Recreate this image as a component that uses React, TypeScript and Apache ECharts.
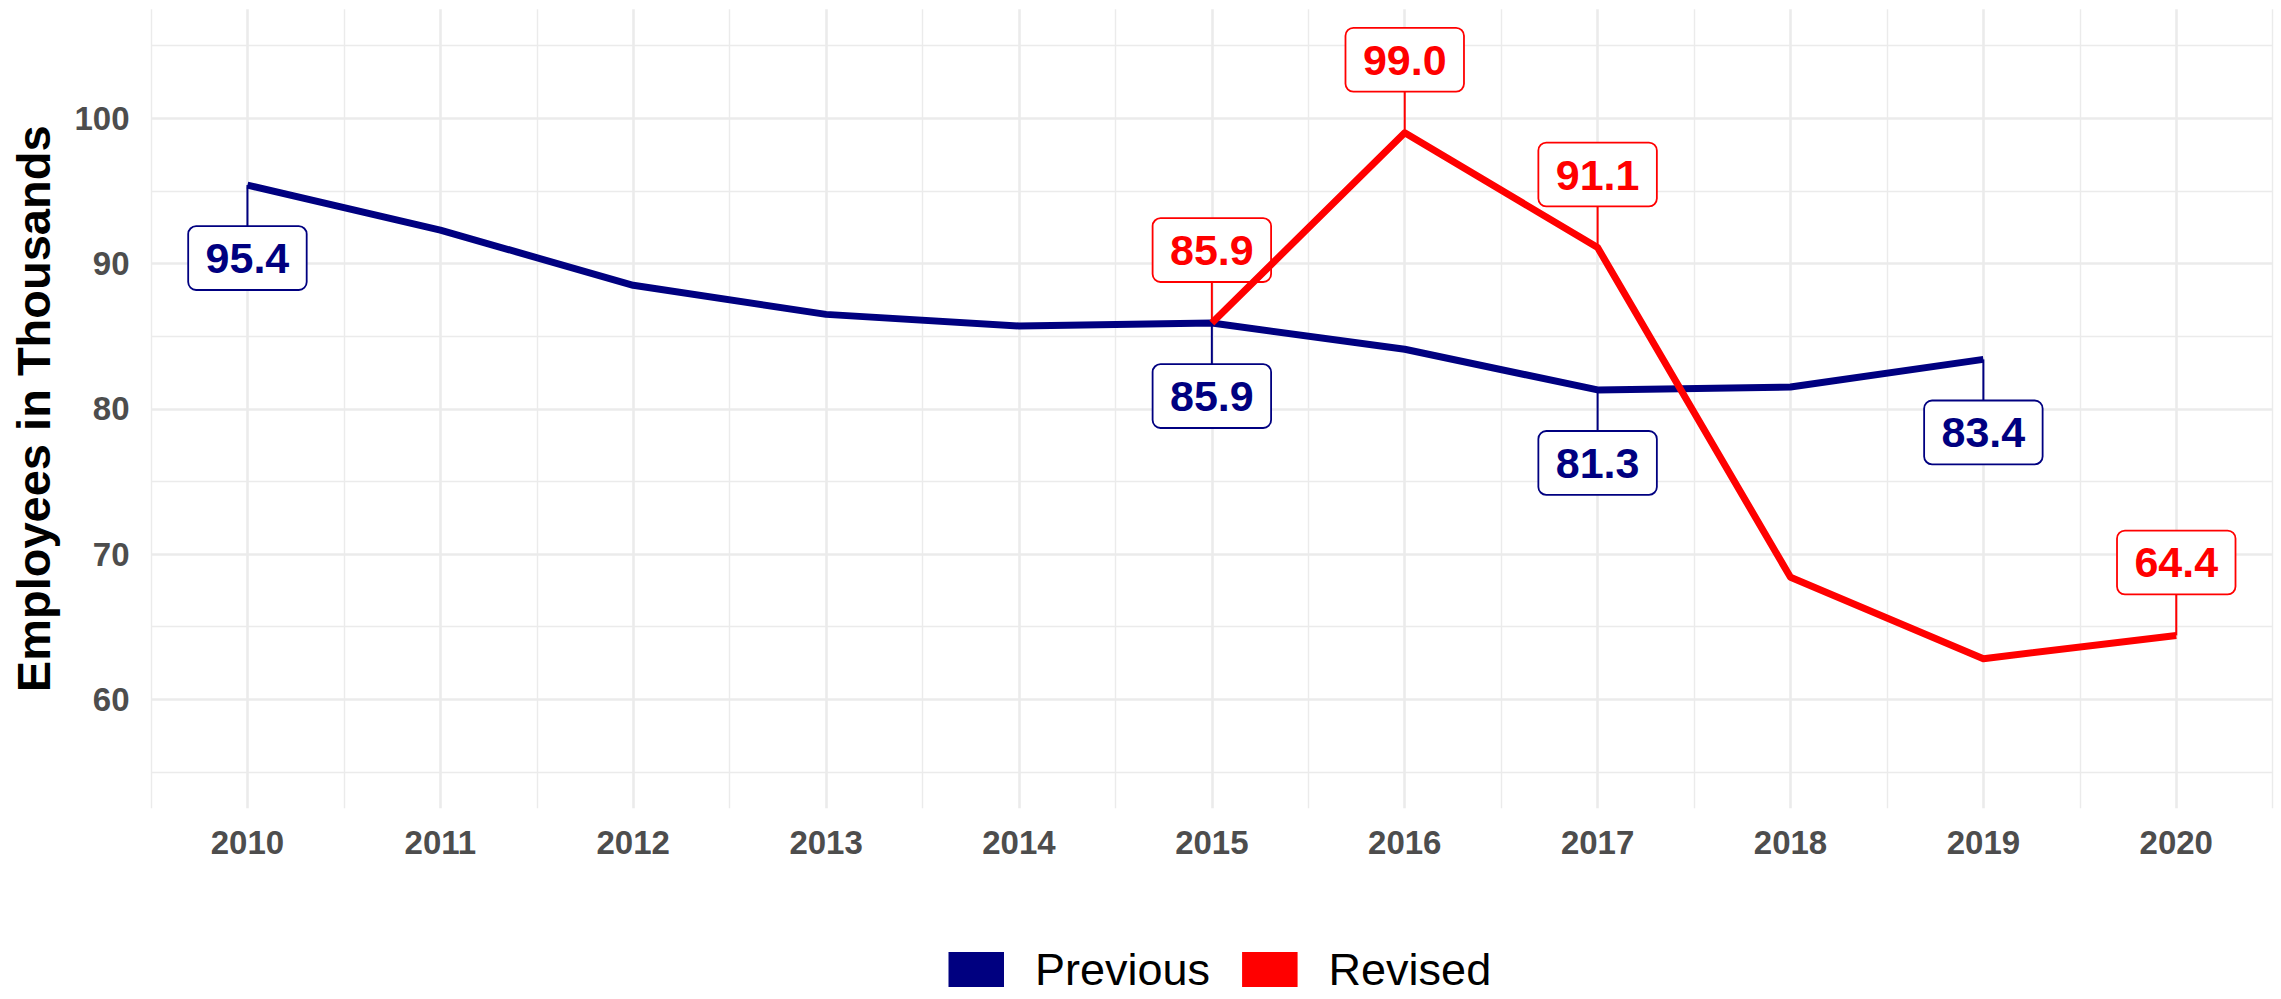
import React, { useEffect, useRef } from 'react';
import * as echarts from 'echarts';

// ---- data ----
const years = [2010, 2011, 2012, 2013, 2014, 2015, 2016, 2017, 2018, 2019, 2020];
const previousValues = [95.4, 92.3, 88.5, 86.5, 85.7, 85.9, 84.1, 81.3, 81.5, 83.4, null];
const revisedValues = [null, null, null, null, null, 85.9, 99.0, 91.1, 68.4, 62.8, 64.4];
const previousLabelYears = [2010, 2015, 2017, 2019];
const revisedLabelYears = [2015, 2016, 2017, 2020];
const yTickLabels = [60, 70, 80, 90, 100];
const seriesNames = ['Previous', 'Revised'];

// ---- style ----
const FONT = '"Liberation Sans", Arial, Helvetica, sans-serif';
const COLORS = ['#000080', '#FF0000'];
const GRID_COLOR = '#EBEBEB';
const T = 'rgba(0,0,0,0)';
const LABEL_GAP = 42;

function pairs(vals: (number | null)[]) {
  const out: [number, number][] = [];
  vals.forEach((v, i) => {
    if (v !== null) out.push([years[i], v]);
  });
  return out;
}

function labelData() {
  const out: number[][] = [];
  previousLabelYears.forEach((yr) => {
    const v = previousValues[years.indexOf(yr)];
    if (v !== null) out.push([yr, v, 1, 0]);
  });
  revisedLabelYears.forEach((yr) => {
    const v = revisedValues[years.indexOf(yr)];
    if (v !== null) out.push([yr, v, -1, 1]);
  });
  return out;
}

const isInt = (v: number) => Math.abs(v - Math.round(v)) < 1e-6;

export default function App() {
  const ref = useRef<HTMLDivElement>(null);
  useEffect(() => {
    const chart = echarts.init(ref.current!, null, { renderer: 'svg' });
    const axisLabelStyle = {
      fontSize: 33,
      fontWeight: 'bold' as const,
      color: '#4D4D4D',
      fontFamily: FONT,
    };
    const option: any = {
      animation: false,
      backgroundColor: '#fff',
      textStyle: { fontFamily: FONT },
      grid: { left: 151, right: 8.3, top: 9.3, bottom: 190.7, containLabel: false },
      xAxis: [
        {
          type: 'value',
          min: 2009.5,
          max: 2020.5,
          interval: 0.5,
          axisLine: { show: false },
          axisTick: { show: false },
          axisLabel: {
            ...axisLabelStyle,
            margin: 18,
            formatter: (v: number) => (isInt(v) && years.includes(Math.round(v)) ? String(Math.round(v)) : ''),
          },
          splitLine: { show: true, lineStyle: { color: [T, GRID_COLOR], width: 2.6 } },
        },
        {
          type: 'value',
          min: 2009.5,
          max: 2020.5,
          interval: 0.5,
          position: 'bottom',
          axisLine: { show: false },
          axisTick: { show: false },
          axisLabel: { show: false },
          splitLine: { show: true, lineStyle: { color: [GRID_COLOR, T], width: 1.4 } },
        },
      ],
      yAxis: [
        {
          type: 'value',
          min: 52.5,
          max: 107.5,
          interval: 2.5,
          axisLine: { show: false },
          axisTick: { show: false },
          axisLabel: {
            ...axisLabelStyle,
            margin: 21.5,
            formatter: (v: number) => (yTickLabels.some((t) => Math.abs(t - v) < 1e-6) ? String(Math.round(v)) : ''),
          },
          splitLine: { show: true, lineStyle: { color: [T, T, T, GRID_COLOR], width: 2.6 } },
          name: 'Employees in Thousands',
          nameLocation: 'middle',
          nameGap: 94,
          nameTextStyle: { fontSize: 47, fontWeight: 'bold', color: '#000', fontFamily: FONT },
        },
        {
          type: 'value',
          min: 52.5,
          max: 107.5,
          interval: 2.5,
          position: 'left',
          axisLine: { show: false },
          axisTick: { show: false },
          axisLabel: { show: false },
          splitLine: { show: true, lineStyle: { color: [T, GRID_COLOR, T, T], width: 1.4 } },
        },
      ],
      legend: {
        left: 948.5,
        top: 947,
        padding: 0,
        itemWidth: 55.5,
        itemHeight: 35,
        itemGap: 32,
        icon: 'rect',
        itemStyle: { borderWidth: 0 },
        textStyle: { fontSize: 45, lineHeight: 40, color: '#000', fontFamily: FONT, padding: [0, 0, 0, 26] },
        data: seriesNames.map((n, i) => ({ name: n, icon: 'rect', itemStyle: { color: COLORS[i], borderWidth: 0 } })),
      },
      series: [
        {
          name: seriesNames[0],
          type: 'line',
          data: pairs(previousValues),
          showSymbol: false,
          symbol: 'none',
          color: COLORS[0],
          lineStyle: { color: COLORS[0], width: 7, join: 'round' },
          z: 3,
          silent: true,
        },
        {
          name: seriesNames[1],
          type: 'line',
          data: pairs(revisedValues),
          showSymbol: false,
          symbol: 'none',
          color: COLORS[1],
          lineStyle: { color: COLORS[1], width: 7, join: 'round' },
          z: 3,
          silent: true,
        },
        {
          name: 'labels',
          type: 'custom',
          z: 2,
          silent: true,
          data: labelData(),
          encode: { x: 0, y: 1 },
          renderItem: (params: any, api: any) => {
            const yr = api.value(0);
            const v = api.value(1);
            const dir = api.value(2);
            const si = api.value(3);
            const p = api.coord([yr, v]);
            const color = COLORS[si];
            const yEdge = p[1] + dir * LABEL_GAP;
            return {
              type: 'group',
              children: [
                {
                  type: 'line',
                  shape: { x1: p[0], y1: p[1], x2: p[0], y2: yEdge },
                  style: { stroke: color, lineWidth: 2 },
                },
                {
                  type: 'text',
                  x: p[0],
                  y: yEdge,
                  style: {
                    text: Number(v).toFixed(1),
                    fill: color,
                    fontSize: 43,
                    fontWeight: 'bold',
                    fontFamily: FONT,
                    align: 'center',
                    verticalAlign: dir > 0 ? 'top' : 'bottom',
                    backgroundColor: '#fff',
                    borderColor: color,
                    borderWidth: 1.8,
                    borderRadius: 7,
                    padding: [10, 16.5],
                    lineHeight: 42,
                  },
                },
              ],
            };
          },
        },
      ],
    };
    chart.setOption(option);
    return () => chart.dispose();
  }, []);
  return (
    <div
      ref={ref}
      style={{ position: 'fixed', left: 0, top: 0, width: 2281, height: 999, background: '#fff' }}
    />
  );
}
